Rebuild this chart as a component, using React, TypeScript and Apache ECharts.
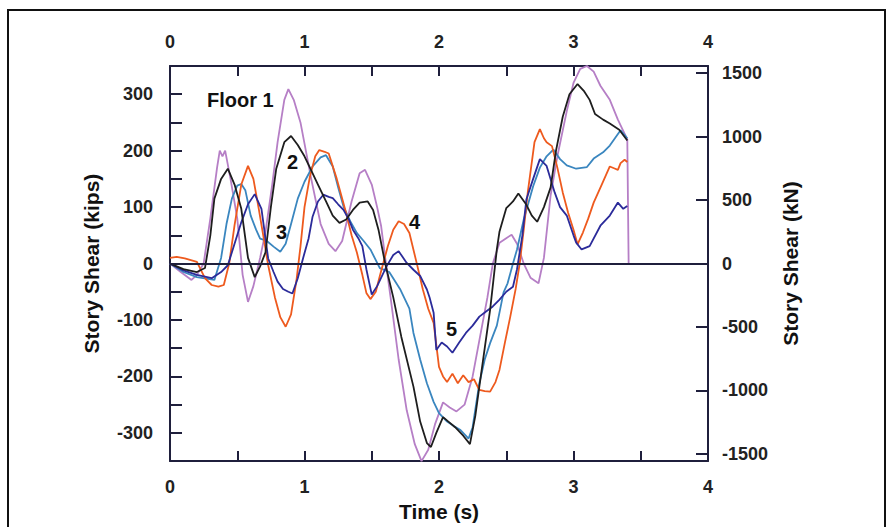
import React, { useEffect, useRef } from "react";
import * as echarts from "echarts";

const FONT = "'Liberation Sans', Arial, Helvetica, sans-serif";

const timeTicks = [0, 1, 2, 3, 4];
const kNTicks = [-1500, -1000, -500, 0, 500, 1000, 1500];
const KIPS_TO_KN = 4.448;

const floor1: number[][] = [
  [0, 0], [0.08, -15], [0.16, -29], [0.2, -20], [0.25, 0], [0.3, 80], [0.35, 170], [0.37, 200], [0.39, 190], [0.41, 200],
  [0.45, 150], [0.5, 80], [0.54, -20], [0.58, -68], [0.62, -40], [0.67, 10], [0.71, 56], [0.76, 140], [0.8, 215], [0.85, 290],
  [0.88, 309], [0.92, 290], [0.97, 250], [1.05, 150], [1.12, 70], [1.18, 35], [1.23, 22], [1.28, 40], [1.35, 110], [1.41, 160],
  [1.45, 166], [1.5, 140], [1.54, 100], [1.57, 66], [1.6, 10], [1.64, -60], [1.7, -170], [1.76, -260], [1.82, -320], [1.87, -350],
  [1.92, -330], [1.97, -285], [2.03, -246], [2.08, -255], [2.13, -262], [2.19, -250], [2.25, -200], [2.3, -136], [2.36, -60], [2.4, 0],
  [2.45, 37], [2.5, 45], [2.54, 51], [2.58, 35], [2.63, 0], [2.68, -25], [2.74, -35], [2.78, 10], [2.83, 121], [2.88, 190],
  [2.95, 270], [3.0, 320], [3.05, 345], [3.1, 350], [3.15, 340], [3.2, 315], [3.27, 290], [3.33, 255], [3.4, 220], [3.41, 0],
];

const floor2: number[][] = [
  [0, 0], [0.1, -10], [0.2, -15], [0.26, -8], [0.3, 50], [0.33, 115], [0.38, 150], [0.43, 168], [0.48, 140], [0.53, 97],
  [0.58, 10], [0.63, -24], [0.67, -5], [0.71, 20], [0.75, 100], [0.79, 168], [0.85, 215], [0.9, 226], [0.95, 210], [1.0, 190],
  [1.05, 165], [1.1, 140], [1.16, 110], [1.21, 85], [1.26, 72], [1.31, 78], [1.36, 95], [1.41, 108], [1.47, 110], [1.51, 95],
  [1.55, 60], [1.6, 0], [1.66, -60], [1.72, -130], [1.81, -218], [1.86, -280], [1.91, -318], [1.94, -325], [1.98, -300], [2.03, -272],
  [2.07, -280], [2.12, -290], [2.18, -305], [2.23, -320], [2.27, -270], [2.3, -218], [2.34, -150], [2.38, -82], [2.43, 25], [2.45, 57],
  [2.5, 98], [2.55, 110], [2.59, 124], [2.65, 104], [2.69, 85], [2.73, 74], [2.78, 100], [2.83, 135], [2.87, 200], [2.92, 260],
  [2.97, 300], [3.03, 318], [3.08, 305], [3.12, 290], [3.16, 265], [3.22, 255], [3.27, 248], [3.34, 237], [3.4, 218],
];

const floor3: number[][] = [
  [0, 0], [0.1, -15], [0.2, -24], [0.33, -29], [0.38, 10], [0.42, 70], [0.46, 115], [0.5, 138], [0.53, 141], [0.56, 130],
  [0.6, 85], [0.64, 60], [0.67, 44], [0.72, 40], [0.77, 30], [0.82, 21], [0.86, 35], [0.9, 70], [0.95, 115], [1.0, 145],
  [1.06, 172], [1.12, 188], [1.16, 192], [1.21, 172], [1.25, 135], [1.29, 101], [1.34, 75], [1.39, 54], [1.44, 40], [1.49, 25],
  [1.56, -8], [1.63, -15], [1.71, -45], [1.78, -80], [1.81, -123], [1.86, -170], [1.91, -212], [1.96, -245], [2.0, -265], [2.06, -280],
  [2.11, -288], [2.16, -295], [2.22, -310], [2.25, -290], [2.3, -212], [2.34, -170], [2.38, -141], [2.43, -110], [2.48, -51], [2.51, -35],
  [2.55, 0], [2.58, 25], [2.63, 78], [2.7, 137], [2.75, 170], [2.8, 190], [2.85, 202], [2.9, 185], [2.95, 174], [3.02, 168],
  [3.1, 171], [3.15, 186], [3.22, 197], [3.27, 209], [3.35, 236], [3.4, 222],
];

const floor4: number[][] = [
  [0, 10], [0.05, 12], [0.11, 9], [0.2, 3], [0.26, -26], [0.31, -38], [0.36, -41], [0.4, -38], [0.44, 0], [0.48, 68],
  [0.53, 140], [0.58, 173], [0.62, 150], [0.66, 97], [0.7, 40], [0.73, -3], [0.78, -60], [0.82, -95], [0.86, -112], [0.9, -90],
  [0.94, -30], [0.97, 30], [1.0, 100], [1.04, 154], [1.08, 190], [1.11, 201], [1.15, 198], [1.18, 195], [1.24, 150], [1.31, 89],
  [1.35, 50], [1.39, 19], [1.43, -20], [1.46, -52], [1.49, -63], [1.53, -50], [1.56, -22], [1.62, 31], [1.66, 60], [1.7, 75],
  [1.74, 70], [1.78, 54], [1.84, -5], [1.88, -46], [1.92, -80], [1.96, -105], [2.0, -183], [2.03, -200], [2.06, -210], [2.1, -195],
  [2.14, -212], [2.18, -198], [2.22, -210], [2.26, -205], [2.3, -224], [2.34, -226], [2.38, -227], [2.42, -210], [2.45, -188], [2.49, -140],
  [2.53, -94], [2.57, -45], [2.6, 0], [2.63, 60], [2.66, 126], [2.71, 215], [2.75, 238], [2.78, 222], [2.8, 215], [2.84, 208],
  [2.88, 170], [2.92, 126], [2.96, 90], [3.0, 60], [3.03, 34], [3.07, 55], [3.11, 80], [3.15, 108], [3.21, 140], [3.27, 172],
  [3.31, 168], [3.33, 166], [3.35, 178], [3.38, 184], [3.4, 180],
];

const floor5: number[][] = [
  [0, 0], [0.1, -12], [0.2, -20], [0.31, -26], [0.38, -15], [0.43, -3], [0.48, 35], [0.53, 73], [0.58, 105], [0.63, 123],
  [0.68, 97], [0.73, 9], [0.77, -15], [0.8, -32], [0.84, -45], [0.88, -50], [0.91, -53], [0.95, -26], [0.99, 10], [1.03, 44],
  [1.06, 83], [1.1, 110], [1.14, 122], [1.18, 118], [1.21, 116], [1.25, 105], [1.29, 95], [1.33, 78], [1.36, 60], [1.4, 45],
  [1.43, 31], [1.46, -10], [1.5, -55], [1.54, -40], [1.58, -20], [1.61, -5], [1.66, 15], [1.7, 22], [1.76, 1], [1.81, -11],
  [1.86, -22], [1.91, -46], [1.93, -60], [1.96, -87], [1.98, -153], [2.02, -140], [2.06, -147], [2.1, -158], [2.15, -140], [2.2, -123],
  [2.25, -110], [2.3, -94], [2.35, -85], [2.4, -76], [2.45, -64], [2.5, -50], [2.55, -41], [2.58, -10], [2.62, 50], [2.65, 114],
  [2.7, 150], [2.75, 185], [2.8, 173], [2.86, 126], [2.9, 100], [2.95, 85], [3.0, 50], [3.02, 37], [3.06, 25], [3.12, 31],
  [3.2, 67], [3.27, 85], [3.33, 108], [3.37, 97], [3.4, 102],
];

const floorNames = ["Floor 1", "Floor 2", "Floor 3", "Floor 4", "Floor 5"];
const floorColors = ["#b67fc6", "#1e1e1e", "#3a86bf", "#ee5a1e", "#2b2b9a"];

const AXIS_COLOR = "#1f1f3c";

export default function App() {
  const ref = useRef<HTMLDivElement>(null);
  useEffect(() => {
    if (!ref.current) return;
    const chart = echarts.init(ref.current, null, { renderer: "svg" });
    const labelStyle = { fontFamily: FONT, fontSize: 18, fontWeight: "bold" as const, color: "#222" };
    const nameStyle = { fontFamily: FONT, fontSize: 21, fontWeight: "bold" as const, color: "#111" };
    const xCommon = {
      type: "value" as const,
      min: 0,
      max: 4,
      interval: 0.5,
      axisLine: { show: true, onZero: false, lineStyle: { color: AXIS_COLOR, width: 2 } },
      axisTick: { show: true, inside: true, length: 10, lineStyle: { color: AXIS_COLOR, width: 2 } },
      axisLabel: {
        ...labelStyle,
        formatter: (v: number) => (timeTicks.includes(v) ? String(v) : ""),
      },
      splitLine: { show: false },
    };
    const data = [floor1, floor2, floor3, floor4, floor5];
    const order = [0, 2, 3, 4, 1];
    const series: any[] = order.map((i) => ({
      name: floorNames[i],
      type: "line",
      data: data[i],
      showSymbol: false,
      symbol: "none",
      xAxisIndex: 0,
      yAxisIndex: 0,
      lineStyle: { color: floorColors[i], width: 1.8 },
      itemStyle: { color: floorColors[i] },
      clip: true,
      z: 3,
    }));
    series[0].markLine = {
      silent: true,
      symbol: ["none", "none"],
      label: { show: false },
      lineStyle: { color: AXIS_COLOR, width: 2, type: "solid" },
      data: [{ yAxis: 0 }],
    };
    const textStyle = (t: string, x: number, y: number) => ({
      type: "text",
      left: x,
      top: y,
      style: { text: t, font: `bold 20px ${FONT}`, fill: "#111" },
      z: 10,
    });
    chart.setOption({
      animation: false,
      backgroundColor: "#ffffff",
      grid: { left: 170, right: 187, top: 66, bottom: 64 },
      xAxis: [
        {
          ...xCommon,
          position: "bottom",
          axisLabel: { ...xCommon.axisLabel, margin: 17 },
          name: "Time (s)",
          nameLocation: "middle",
          nameGap: 37,
          nameTextStyle: nameStyle,
        },
        { ...xCommon, position: "top", axisLabel: { ...xCommon.axisLabel, margin: 15 } },
      ],
      yAxis: [
        {
          type: "value",
          min: -350,
          max: 350,
          interval: 50,
          position: "left",
          axisLine: { show: true, onZero: false, lineStyle: { color: AXIS_COLOR, width: 2 } },
          axisTick: { show: true, inside: true, length: 12, lineStyle: { color: AXIS_COLOR, width: 2 } },
          axisLabel: {
            ...labelStyle,
            margin: 17,
            formatter: (v: number) => (v % 100 === 0 ? String(v) : ""),
          },
          splitLine: { show: false },
          name: "Story Shear (kips)",
          nameLocation: "middle",
          nameRotate: 90,
          nameGap: 68,
          nameTextStyle: nameStyle,
        },
        {
          type: "value",
          min: -350 * KIPS_TO_KN,
          max: 350 * KIPS_TO_KN,
          position: "right",
          axisLine: { show: true, onZero: false, lineStyle: { color: AXIS_COLOR, width: 2 } },
          axisTick: { show: true, inside: true, length: 12, customValues: kNTicks, lineStyle: { color: AXIS_COLOR, width: 2 } },
          axisLabel: {
            ...labelStyle,
            margin: 14,
            customValues: kNTicks,
            formatter: (v: number) => String(Math.round(v)),
          },
          splitLine: { show: false },
          name: "Story Shear (kN)",
          nameLocation: "middle",
          nameRotate: 90,
          nameGap: 72,
          nameTextStyle: nameStyle,
        },
      ],
      graphic: [
        {
          type: "rect",
          shape: { x: 8, y: 10, width: 877, height: 530 },
          style: { fill: "none", stroke: "#111", lineWidth: 2 },
          silent: true,
        },
        textStyle("Floor 1", 207, 90),
        textStyle("2", 287, 152),
        textStyle("3", 276, 222),
        textStyle("4", 409, 212),
        textStyle("5", 446, 319),
      ],
      series,
    });
    return () => chart.dispose();
  }, []);
  return <div ref={ref} style={{ position: "absolute", left: 0, top: 0, width: 895, height: 527 }} />;
}
